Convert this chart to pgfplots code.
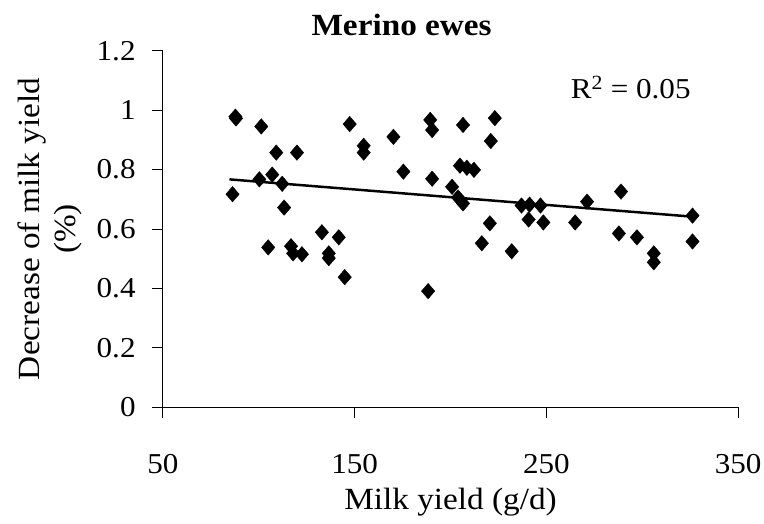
\documentclass[border=0pt]{standalone}
\usepackage{fontspec}
\setmainfont{Liberation Serif}[FakeStretch=1.08]
\usepackage{pgfplots}
\pgfplotsset{compat=1.18}
\pgfplotstableread{
x y
87.8 0.978
88.1 0.972
86.3 0.717
101.3 0.945
100.3 0.767
104.9 0.538
107.0 0.783
109.1 0.857
112.2 0.752
113.2 0.672
116.8 0.542
117.9 0.518
119.9 0.857
122.5 0.515
132.9 0.589
136.5 0.518
136.5 0.502
141.7 0.572
144.8 0.438
147.4 0.953
154.7 0.880
154.7 0.857
170.2 0.910
175.4 0.793
189.4 0.967
190.4 0.933
190.4 0.769
188.3 0.391
200.8 0.742
203.9 0.706
206.5 0.686
206.5 0.950
204.9 0.813
208.5 0.806
212.2 0.799
221.0 0.896
223.1 0.973
220.5 0.619
216.3 0.552
231.9 0.525
237.0 0.679
241.2 0.682
246.9 0.679
240.7 0.632
248.4 0.622
265.0 0.622
271.2 0.692
288.9 0.726
287.8 0.585
297.2 0.572
306.0 0.518
306.0 0.488
326.2 0.645
326.2 0.558
}\pts
\begin{document}
\fontsize{31}{36}\selectfont
\begin{tikzpicture}
\begin{axis}[
  scale only axis, width=579pt, height=359pt,
  xmin=50, xmax=350, ymin=0, ymax=1.2,
  axis lines*=left,
  axis line style={line width=1pt, black},
  tick align=outside, major tick length=11pt,
  tick style={black, line width=1pt},
  xtick={50,150,250,350}, ytick={0,0.2,0.4,0.6,0.8,1,1.2},
  /pgf/number format/assume math mode=true,
  ticklabel style={font=\fontsize{29}{34}\selectfont},
  xticklabel style={yshift=-26pt},
  yticklabel style={xshift=-6pt},
  clip=false,
]
\addplot[only marks, mark=diamond*, mark size=7.8pt, mark options={fill=black, draw=black, xscale=1.15}] table[x=x,y=y]{\pts};
\addplot[black, line width=2.5pt] coordinates {(84.7,0.767) (325.1,0.642)};
\node[font=\bfseries] at (rel axis cs:0.415,1.072) {Merino ewes};
\node[font=\fontsize{29}{34}\selectfont] at (axis cs:294,1.077) {R\textsuperscript{2} = 0.05};
\node at (rel axis cs:0.5,-0.265) {Milk yield (g/d)};
\node[rotate=90, align=center] at (rel axis cs:-0.197,0.5) {Decrease of milk yield\\(\%)};
\end{axis}
\pgfresetboundingbox
\path[use as bounding box] (-164pt,-117pt) rectangle (605pt,410pt);
\end{tikzpicture}
\end{document}
